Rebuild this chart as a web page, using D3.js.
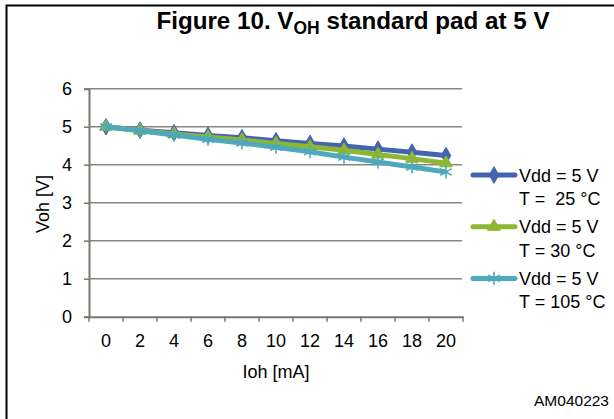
<!DOCTYPE html>
<html>
<head>
<meta charset="utf-8">
<script src="https://cdn.jsdelivr.net/npm/d3@7"></script>
<style>
    html, body { margin: 0; padding: 0; background: #fff; }
    svg text { font-family: "Liberation Sans", Arial, sans-serif; fill: #000; }
</style>
</head>
<body>
<svg width="614" height="419"></svg>
<script>
var categories = ["0", "2", "4", "6", "8", "10", "12", "14", "16", "18", "20"];
var vdd5t25 = [5.0, 4.91, 4.84, 4.77, 4.71, 4.63, 4.56, 4.49, 4.41, 4.33, 4.24];
var vdd5t30 = [5.0, 4.90, 4.81, 4.73, 4.65, 4.56, 4.47, 4.38, 4.27, 4.16, 4.04];
var vdd5t105 = [5.0, 4.89, 4.78, 4.67, 4.57, 4.46, 4.34, 4.20, 4.07, 3.94, 3.81];
var yTicks = [0, 1, 2, 3, 4, 5, 6];
var seriesNames = [["Vdd = 5 V", "T =  25 °C"], ["Vdd = 5 V", "T = 30 °C"], ["Vdd = 5 V", "T = 105 °C"]];

var svg = d3.select("svg");
var axisColor = "#7d756e";

var series = [
    { values: vdd5t25, color: "#4365b0", symbol: d3.symbolDiamond, size: 80, fill: true, label: seriesNames[0] },
    { values: vdd5t30, color: "#8db733", symbol: d3.symbolTriangle, size: 70, fill: true, label: seriesNames[1] },
    { values: vdd5t105, color: "#4fa8bb", symbol: d3.symbolAsterisk, size: 120, fill: false, label: seriesNames[2] }
];

// frame
svg.append("path")
    .attr("d", "M6.5,419V5.5H614")
    .attr("fill", "none")
    .attr("stroke", "#000")
    .attr("stroke-width", 2);

// title
var title = svg.append("text")
    .attr("x", 353)
    .attr("y", 29)
    .attr("text-anchor", "middle")
    .style("font-size", "24.2px")
    .style("font-weight", "bold");
title.append("tspan").text("Figure 10. V");
title.append("tspan").attr("dy", 5).style("font-size", "17.5px").text("OH");
title.append("tspan").attr("dy", -5).text(" standard pad at 5 V");

var x = d3.scaleBand().domain(categories).range([89, 463]);
var y = d3.scaleLinear().domain([0, 6]).range([316.7, 88.7]);

// gridlines
svg.append("g")
    .selectAll("line")
    .data(yTicks.slice(1))
    .enter().append("line")
    .attr("x1", x.range()[0])
    .attr("x2", x.range()[1] - 1)
    .attr("y1", function (d) { return y(d); })
    .attr("y2", function (d) { return y(d); })
    .attr("stroke", "#8a847e")
    .attr("stroke-width", 1.5);

// y axis
var yAxis = svg.append("g")
    .attr("transform", "translate(" + x.range()[0] + ",0)")
    .call(d3.axisLeft(y).tickValues(yTicks).tickFormat(d3.format("d")).tickSize(5).tickPadding(12));
yAxis.select(".domain").attr("stroke", axisColor).attr("stroke-width", 2);
yAxis.selectAll(".tick line").attr("stroke", axisColor).attr("stroke-width", 1.5);
yAxis.selectAll("text").style("font-size", "18px").attr("fill", "#000");

// x axis
var xAxis = svg.append("g")
    .attr("transform", "translate(0," + y(0) + ")")
    .call(d3.axisBottom(x).tickSize(0).tickPadding(18));
xAxis.select(".domain").attr("stroke", axisColor).attr("stroke-width", 2);
xAxis.selectAll("text").style("font-size", "18px").attr("fill", "#000");

var edges = categories.map(function (c) { return x(c); }).concat([x.range()[1]]);
svg.append("g")
    .selectAll("line")
    .data(edges)
    .enter().append("line")
    .attr("x1", function (d) { return d; })
    .attr("x2", function (d) { return d; })
    .attr("y1", y(0))
    .attr("y2", y(0) + 5)
    .attr("stroke", axisColor)
    .attr("stroke-width", 1.5);

// axis titles
svg.append("text")
    .attr("transform", "translate(49,204) rotate(-90)")
    .attr("text-anchor", "middle")
    .style("font-size", "18px")
    .text("Voh [V]");

svg.append("text")
    .attr("x", 276)
    .attr("y", 378)
    .attr("text-anchor", "middle")
    .style("font-size", "18px")
    .text("Ioh [mA]");

// series
var line = d3.line()
    .x(function (d, i) { return x(categories[i]) + x.bandwidth() / 2; })
    .y(function (d) { return y(d); });

series.forEach(function (s) {
    var g = svg.append("g");
    g.append("path")
        .datum(s.values)
        .attr("d", line)
        .attr("fill", "none")
        .attr("stroke", s.color)
        .attr("stroke-width", 5)
        .attr("stroke-linejoin", "round");

    g.selectAll("path.marker")
        .data(s.values)
        .enter().append("path")
        .attr("class", "marker")
        .attr("transform", function (d, i) {
            return "translate(" + (x(categories[i]) + x.bandwidth() / 2) + "," + y(d) + ")";
        })
        .attr("d", d3.symbol().type(s.symbol).size(s.size))
        .attr("fill", s.fill ? s.color : "none")
        .attr("stroke", s.color)
        .attr("stroke-width", s.fill ? 1 : 1.6);
});

// legend
var legend = svg.append("g")
    .selectAll("g")
    .data(series)
    .enter().append("g")
    .attr("transform", function (d, i) { return "translate(473," + (175 + i * 51.7) + ")"; });

legend.append("line")
    .attr("x1", 0).attr("x2", 42)
    .attr("stroke", function (d) { return d.color; })
    .attr("stroke-width", 5)
    .attr("stroke-linecap", "round");

legend.append("path")
    .attr("transform", "translate(21,0)")
    .attr("d", function (d) { return d3.symbol().type(d.symbol).size(d.size)(); })
    .attr("fill", function (d) { return d.fill ? d.color : "none"; })
    .attr("stroke", function (d) { return d.color; })
    .attr("stroke-width", function (d) { return d.fill ? 1 : 1.6; });

legend.append("text")
    .attr("x", 46)
    .attr("y", 6.5)
    .style("font-size", "18px")
    .style("white-space", "pre")
    .text(function (d) { return d.label[0]; });

legend.append("text")
    .attr("x", 46)
    .attr("y", 30)
    .style("font-size", "18px")
    .style("white-space", "pre")
    .text(function (d) { return d.label[1]; });

// document code
svg.append("text")
    .attr("x", 609)
    .attr("y", 406)
    .attr("text-anchor", "end")
    .style("font-size", "15.5px")
    .text("AM040223");
</script>
</body>
</html>
